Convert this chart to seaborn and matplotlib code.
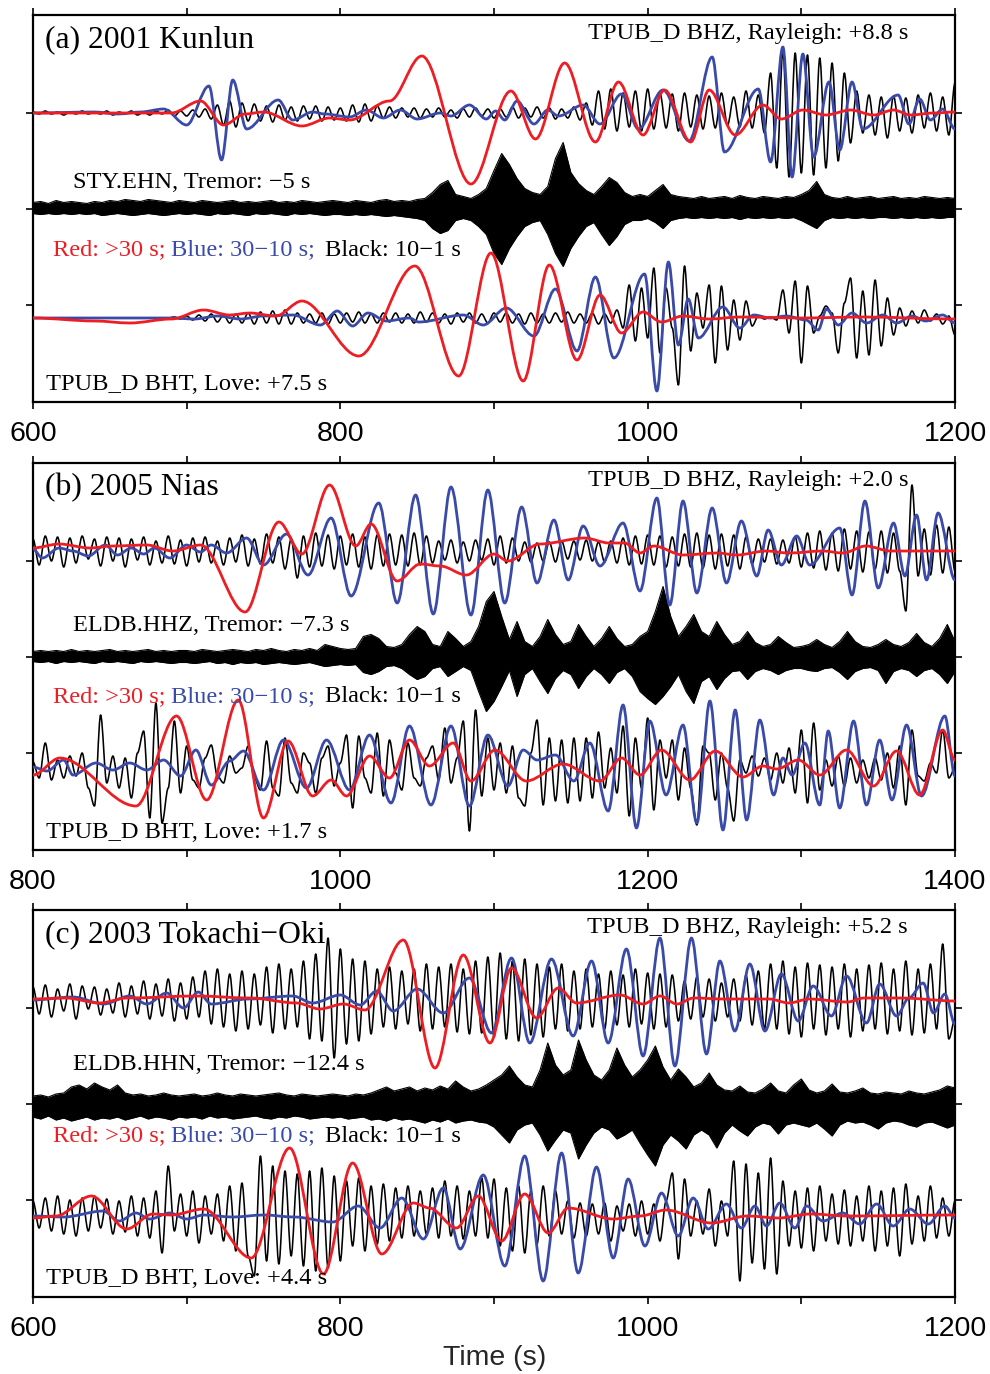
import numpy as np
import pandas as pd
import matplotlib
matplotlib.use("Agg")
import matplotlib.pyplot as plt
from matplotlib.path import Path
from matplotlib.patches import PathPatch
import seaborn as sns

# ---------------------------------------------------------------- data
# time windows (s)
A_XLIM = (600, 1200)
B_XLIM = (800, 1400)
C_XLIM = (600, 1200)

PANEL_TITLES = ["(a) 2001 Kunlun", "(b) 2005 Nias", "(c) 2003 Tokachi\u2212Oki"]
RAYLEIGH_LABELS = ["TPUB_D BHZ, Rayleigh: +8.8 s", "TPUB_D BHZ, Rayleigh: +2.0 s",
                   "TPUB_D BHZ, Rayleigh: +5.2 s"]
TREMOR_LABELS = ["STY.EHN, Tremor: \u22125 s", "ELDB.HHZ, Tremor: \u22127.3 s",
                 "ELDB.HHN, Tremor: \u221212.4 s"]
LOVE_LABELS = ["TPUB_D BHT, Love: +7.5 s", "TPUB_D BHT, Love: +1.7 s",
               "TPUB_D BHT, Love: +4.4 s"]
LEGEND_TEXTS = ["Red: >30 s;", "Blue: 30\u221210 s;", "Black: 10\u22121 s"]
XLABEL = "Time (s)"

# ---- (a) 2001 Kunlun : Rayleigh (extrema: time, amplitude)
A_RAY_RED = [(600, 0), (690, 0), (709, 12), (724, -12), (738, -1), (750, 1), (775, -13), (793, -5),
             (806, -7), (832, 12), (853, 57), (885, -71), (911, 22), (927, -26), (946, 50), (966, -29),
             (981, 31), (997, -22), (1011, 23), (1028, -29), (1040, 23), (1057, -22), (1075, 8),
             (1087, -6), (1101, 3), (1116, -2), (1132, 3), (1147, -2), (1160, 3), (1171, -2),
             (1186, 0), (1200, 1)]
A_RAY_BLUE = [(600, 0), (640, 1), (655, -1), (670, 1), (685, 4), (700, -12), (714.5, 27), (722.7, -47),
              (730, 33), (739, -16), (759.6, 13), (769, -7), (782, 1), (790, -1), (806, -4), (817, 3),
              (828, -5), (839, 3), (850, -6), (865, 0), (872, -3), (884, 8), (895, -6), (901, 2),
              (907, -7), (915, 12), (926, -11), (935, 3), (942, -3), (958, 8), (969, -11), (983, 19),
              (994, -16), (1010, 23), (1027, -28), (1042, 56), (1050, -39), (1072, 24), (1080, -49),
              (1088, 66), (1094, -64), (1101, 59), (1108, -44), (1118, 31), (1125, -37), (1133, 31),
              (1140, -16), (1163, 18), (1170, -11), (1177, 14), (1184, -7), (1192, 4), (1200, -16)]
# black samples every 4 s from 600 to 1200
A_RAY_BLACK = [1, -1, 2, -1, 1, -2, 1, -1, 2, -1, 1, -1, 2, -2, 1,
               -1, 2, -2, 1, -2, 2, -1, 3, -3, 2, -3, 3, -4, 4, -6,
               8, -12, 12, -14, 10, -8, 9, -8, 7, -9, 8, -7, 6, -8, 7,
               -6, 7, -8, 6, -7, 5, -8, 8, -9, 9, -8, 7, -5, 6, -5,
               5, -4, 5, -5, 4, -4, 5, -4, 3, -5, 4, -4, 5, -3, 4,
               -5, 4, -4, 6, -5, 5, -4, 6, -5, 5, -6, 4, -5, 6, -7,
               10, -12, 22, -16, 24, -18, 20, -14, 22, -18, 24, -16, 20, -15, 19,
               -18, 20, -14, 18, -16, 17, -15, 20, -12, 16, -14, 22, -15, 18, -20,
               40, -55, 62, -64, 60, -60, 58, -62, 55, -55, 50, -48, 40, -30, 22,
               -20, 18, -22, 16, -25, 17, -18, 15, -20, 18, -15, 20, -18, 16, -22,
               30]
# tremor envelope every 5 s
A_TREMOR_UP = [6, 7, 5, 8, 6, 7, 6, 5, 7, 6, 8, 7, 9, 8, 7, 9, 8, 7, 6, 8,
               7, 6, 8, 7, 6, 7, 8, 6, 7, 6, 7, 8, 6, 7, 6, 8, 7, 6, 7, 8,
               7, 6, 8, 7, 6, 8, 9, 7, 8, 7, 9, 10, 16, 24, 28, 14, 12, 10, 14, 20,
               38, 55, 44, 30, 20, 16, 14, 22, 50, 66, 36, 25, 18, 14, 22, 31, 26, 16, 12, 14,
               12, 18, 24, 14, 12, 11, 10, 12, 10, 11, 12, 10, 13, 11, 10, 12, 11, 10, 12, 11,
               14, 18, 27, 14, 11, 10, 12, 10, 11, 12, 10, 11, 12, 10, 11, 10, 12, 11, 10, 11,
               10]
A_TREMOR_LO = [5, 6, 5, 6, 5, 6, 5, 6, 5, 7, 6, 5, 6, 7, 6, 5, 6, 7, 6, 5,
               6, 5, 6, 7, 5, 6, 5, 6, 7, 5, 6, 5, 6, 7, 5, 6, 5, 6, 7, 6,
               6, 7, 6, 7, 6, 7, 8, 7, 8, 9, 10, 12, 20, 25, 22, 12, 10, 12, 18, 26,
               45, 56, 40, 28, 18, 14, 12, 26, 45, 58, 40, 28, 18, 14, 26, 37, 28, 16, 12, 12,
               10, 14, 20, 12, 10, 9, 10, 9, 10, 9, 10, 9, 11, 9, 10, 9, 10, 9, 10, 9,
               12, 16, 20, 12, 9, 10, 9, 10, 9, 10, 9, 9, 10, 9, 10, 9, 10, 9, 10, 9,
               9]
# ---- (a) Love
A_LOVE_RED = [(600, 0), (640, -3), (663, -5), (690, -1), (711, 8), (728, 3), (741, 5), (758, 2),
              (775, 17), (812, -38), (848.5, 52), (877, -58), (898, 65), (919, -63), (936, 53),
              (954, -42), (969, 23), (983, -15), (997, 6), (1009, -4), (1023, 2), (1040, -1),
              (1060, 1), (1100, 0), (1140, 1), (1200, -1)]
A_LOVE_BLUE = [(600, 0), (690, 0), (705, -1), (720, 2), (735, -1), (750, 2), (769, 3), (787, -7),
               (798, 7), (808, -8), (818, 5), (830, -3), (845, 0), (851, -4), (880, 3), (893, -7),
               (908, 10), (926, -18), (940, 29), (954, -33), (966, 41), (978, -40), (998, 44),
               (1006, -73), (1013.5, 56), (1020, -27), (1026.4, 19), (1033, -20), (1049, 11),
               (1060, -10), (1069, 3), (1080, 0), (1090, 2), (1103, -2), (1111, -12), (1116.4, 9),
               (1124, -7), (1133, 5), (1142.5, -5), (1153, 3), (1162, -5), (1172, 2), (1181, -3),
               (1192, 3), (1200, -5)]
A_LOVE_BLACK = [0, 0, 0, 0, 0, 0, 0, 0, 0, 0, 0, 0, 0, 0, 0,
                0, 0, 0, 0, 0, 0, 0, 0, 1, -1, 2, -2, 3, -3, 4,
                -4, 3, -5, 4, -5, 5, -6, 6, -5, 7, -6, 8, -6, 5, -5,
                4, -5, 5, -6, 4, -5, 5, -4, 6, -5, 4, -5, 5, -4, 5,
                -5, 4, -5, 6, -4, 5, -5, 4, -6, 5, -4, 5, -5, 4, -5,
                5, -4, 5, -5, 4, -6, 5, -5, 4, -5, 5, -4, 6, -5, 4,
                -5, 5, -6, 4, -5, 8, -10, 33, -23, 30, -20, 50, -35, 30, -10,
                -67, 52, -33, 25, -10, 33, -45, 32, -32, 18, -22, 17, -8, 2, -1,
                1, -2, 28, -15, 37, -45, 32, -15, 2, 12, 5, -35, 15, 40, -40,
                27, -37, 38, -28, 20, -17, 10, -8, 7, -5, 8, -3, 4, -6, 2,
                -17]

# ---- (b) 2005 Nias : Rayleigh
B_RAY_RED = [(800, 3), (817, 7), (837, 3), (852, 5), (874, 6), (891, 0), (909, 6), (938, -61),
             (960, 29), (975, -3), (993, 66), (1010, 5), (1020, 27), (1037, -30), (1052, -13),
             (1065, -15), (1082, -24), (1100, -3), (1109, -10), (1130, 7), (1159, 13), (1175, 8),
             (1185, 8), (1195, -2), (1204, 5), (1223, -4), (1245, -2), (1258, -4), (1277, 0),
             (1292, -2), (1314, 0), (1327, -2), (1342, 5), (1358, 0), (1400, 0)]
B_RAY_BLUE = [(800, 2), (806, -7), (817, 3), (826, 0), (836, -5), (847, 6), (855, -4), (864, 3),
              (872, -3), (879, 3), (889, -7), (900, 6), (909, -1), (916, 6), (926, -2), (939, 13),
              (950, -14), (965, 17), (979, -24), (994, 33), (1007, -45), (1025, 48), (1037, -52),
              (1049, 56), (1060.5, -63), (1072, 64), (1085, -64), (1096, 61), (1107, -52),
              (1118, 44), (1128, -32), (1139, 31), (1148.3, -29), (1158, 25), (1169, -15),
              (1184, 28), (1195, -40), (1206, 53), (1214.4, -54), (1223, 50), (1232, -42),
              (1242, 43), (1251.3, -32), (1261, 30), (1271, -25), (1278.4, 21), (1287, -14),
              (1297, 15), (1305.5, -14), (1325, 23), (1333, -44), (1341.4, 50), (1350, -37),
              (1360, 28), (1367.4, -25), (1375, 36), (1381.5, -29), (1389, 38), (1400, -29)]
B_RAY_BLACK = [12, -14, 15, -10, 14, -16, 13, -12, 15, -8, 12, -15, 14, -10, 13,
               -16, 12, -9, 14, -14, 10, -12, 15, -13, 11, -15, 13, -11, 14, -12,
               10, -14, 13, -11, 16, -15, 12, -13, 17, -12, 14, -18, 12, -27, 15,
               -16, 18, -15, 16, -18, 15, -14, 17, -16, 14, -18, 16, -15, 17, -14,
               16, -15, 18, -14, 15, -12, 10, -9, 11, -12, 9, -10, 11, -9, 12,
               -14, 15, -12, 13, -10, 9, -11, 8, -10, 9, -11, 10, -8, 10, -9,
               11, -10, 9, -11, 10, -12, 13, -14, 15, -13, 16, -14, 15, -16, 14,
               -15, 17, -16, 18, -17, 16, -18, 17, -15, 16, -18, 14, -13, 12, -11,
               12, -13, 11, -12, 14, -16, 18, -17, 20, -19, 18, -20, 22, -18, 20,
               -21, 19, -18, 20, -22, 18, -20, -60, 66, -25, 22, -24, 26, -22, 24,
               -20]
B_TREMOR_UP = [5, 6, 5, 6, 5, 7, 5, 6, 5, 6, 7, 5, 6, 5, 6, 7, 5, 6, 5, 6,
               6, 5, 7, 6, 5, 6, 7, 6, 5, 7, 6, 8, 6, 5, 7, 6, 8, 6, 12, 10,
               8, 7, 8, 20, 22, 18, 10, 9, 12, 22, 30, 25, 12, 10, 25, 18, 10, 15, 30, 55,
               65, 40, 17, 35, 15, 10, 20, 37, 22, 12, 15, 32, 20, 10, 18, 30, 18, 10, 12, 20,
               25, 45, 70, 40, 20, 30, 42, 25, 20, 35, 22, 12, 15, 25, 14, 10, 12, 20, 14, 9,
               10, 12, 17, 12, 9, 15, 25, 15, 10, 9, 12, 17, 12, 10, 14, 23, 14, 10, 18, 32,
               15]
B_TREMOR_LO = [5, 6, 5, 7, 5, 6, 5, 6, 7, 5, 6, 5, 6, 7, 5, 6, 5, 6, 7, 6,
               6, 7, 6, 5, 7, 6, 8, 6, 7, 6, 8, 7, 6, 7, 8, 7, 6, 8, 10, 9,
               8, 9, 8, 16, 18, 15, 10, 9, 12, 18, 23, 20, 12, 10, 20, 15, 10, 14, 35, 55,
               45, 30, 14, 40, 18, 12, 25, 37, 22, 14, 18, 32, 20, 12, 18, 27, 16, 12, 20, 35,
               42, 48, 40, 30, 18, 35, 47, 25, 20, 33, 22, 15, 14, 23, 15, 12, 14, 18, 14, 12,
               12, 14, 15, 12, 11, 16, 23, 15, 12, 11, 14, 27, 15, 12, 14, 20, 14, 12, 18, 27,
               15]
# ---- (b) Love
B_LOVE_RED = [(800, -7), (817.5, 10), (867, -38), (893.4, 52), (913, -32), (933.6, 68), (950, -50),
              (966, 27), (982, -28), (994, -12), (1004, -28), (1019, 12), (1032, -10), (1045, 28),
              (1058, 2), (1073.5, 25), (1085, -13), (1100.6, 18), (1121, -13), (1145, 4),
              (1169, -13), (1183, 10), (1195, -7), (1209, 18), (1227.5, -12), (1244, 17),
              (1262, -9), (1275, 2), (1284, -1), (1298, 8), (1312, -7), (1329.4, 18), (1347, -18),
              (1362, 17), (1377, -27), (1392, 38), (1400, 8)]
B_LOVE_BLUE = [(800, 1), (809, -3), (820, 8), (826, -7), (841, 5), (852, -2), (863, 5), (874, -2),
               (885, 8), (896, -8), (906, 18), (916, -17), (928, 7), (937, 17), (950, -22),
               (963, 28), (978, -20), (991, 28), (1006, -22), (1019, 33), (1033, -35), (1045, 42),
               (1059, -37), (1072, 42), (1084, -38), (1096, 33), (1109, -18), (1119, 18),
               (1128, 8), (1140, 13), (1152, -13), (1162.4, 25), (1174.3, -43), (1184, 63),
               (1192.7, -60), (1201.4, 47), (1212, -27), (1223, 43), (1232, -55), (1240.5, 67),
               (1249, -62), (1257, 58), (1264.4, -52), (1273, 48), (1282, -27), (1288, 10),
               (1294, -7), (1302.3, 25), (1312, -37), (1317.5, 37), (1325, -40), (1334, 47),
               (1342.4, -37), (1351, 28), (1359, -32), (1368.5, 43), (1378.2, -28),
               (1393.4, 52), (1400, -8)]
B_LOVE_BLACK = [6, -10, 25, -12, 8, -10, 12, -8, 15, -20, -38, 53, -15, 12, -20,
                10, -30, 15, 37, -50, 65, -55, -20, 47, -25, 22, -12, -20, 10, 23,
                -8, -15, 12, -5, 0, 22, -10, -22, 27, -20, -28, 30, -15, -25, 15,
                5, -25, 10, 22, -18, 5, 33, -40, 32, -10, -25, 35, -28, 28, -5,
                -22, 25, -10, -18, 10, 22, -12, 40, -15, 10, 47, -63, 58, -28, 30,
                -22, 25, -25, 22, -30, -38, 15, 48, -37, 30, -33, 28, -35, 30, -33,
                30, -30, 36, -20, 20, -25, 42, -48, 30, -20, 50, -42, 28, -10, 28,
                -32, 20, -20, -57, 22, 15, -32, 15, -20, -53, 8, -5, 12, -8, 10,
                -12, 15, -15, 20, -25, 38, -35, 45, -22, 8, -18, 12, -18, 10, -15,
                8, -10, 10, -12, 15, -20, 22, -37, 38, -8, -13, 5, -5, 38, -10,
                0]

# ---- (c) 2003 Tokachi-Oki : Rayleigh
C_RAY_RED = [(600, 0), (621, 1), (643.5, -4), (661, 1), (706.5, 3), (741, 1), (771.5, -4),
             (786.7, -10), (802, -5), (816, -11), (841, 59), (861.6, -69), (880, 44), (897.4, -44),
             (911.4, 31), (927.7, -19), (941.8, 11), (953.7, -4), (982, 4), (997, -5), (1008, 3),
             (1019, -5), (1030, 1), (1050, 0), (1079, 0), (1092, -4), (1105, 0), (1130, -3),
             (1141, 1), (1165, 1), (1200, -2)]
C_RAY_BLUE = [(600, -1), (626, 2), (646, -5), (663, 3), (674, -5), (687, 6), (698, -9), (707.5, 7),
              (716, -5), (740, 0), (769, 3), (782, -4), (800, 4), (813, -6), (823.6, 8),
              (834.4, -12), (850, 10), (867, -14), (884, 21), (898.4, -34), (911.4, 41),
              (923.3, -44), (937.4, 40), (951.5, -37), (963.5, 38), (974.3, -44), (986.2, 50),
              (997, -57), (1008, 61), (1017.7, -67), (1028.5, 61), (1038.3, -55), (1047, 38),
              (1056.7, -32), (1066.5, 35), (1076.3, -32), (1087, 25), (1098, -22), (1107.7, 13),
              (1119.6, -17), (1129.4, 23), (1142.4, -24), (1151, 15), (1162, -17), (1170, 1),
              (1179.3, 16), (1186, -14), (1193.4, 5), (1200, -25)]
C_RAY_BLACK = [12, -15, 14, -18, 10, -12, 15, -20, 13, -10, 12, -16, 10, -14, 16,
               -18, 13, -15, 18, -20, 15, -17, 20, -22, 16, -20, 22, -18, 28, -25,
               30, -28, 25, -32, 28, -30, 25, -26, 32, -34, 35, -30, 30, -28, 38,
               -40, 45, -42, 61, -59, 50, -45, 40, -42, 38, -35, 30, -28, 32, -30,
               28, -25, 30, -32, 35, -30, 32, -28, 35, -33, 30, -35, 38, -34, 42,
               -38, 46, -40, 38, -42, 40, -36, 35, -38, 32, -30, 35, -32, 28, -30,
               30, -28, 25, -30, 28, -26, 24, -28, 30, -25, 26, -30, 25, -28, 24,
               -22, 18, -20, 22, -18, 20, -22, 16, -18, 20, -22, 24, -26, 28, -30,
               35, -30, 38, -35, 32, -38, 36, -30, 34, -36, 32, -30, 35, -38, 30,
               -32, 34, -30, 36, -35, 30, -32, 38, -36, 30, -34, 35, -30, 55, -40,
               -20]
C_TREMOR_UP = [9, 10, 8, 11, 12, 18, 20, 16, 22, 18, 15, 20, 12, 10, 11, 9, 10, 12, 10, 9,
               10, 11, 9, 10, 12, 10, 9, 11, 10, 9, 10, 11, 12, 10, 9, 11, 10, 9, 10, 11,
               10, 9, 11, 10, 12, 15, 18, 14, 16, 18, 14, 17, 15, 19, 16, 24, 18, 14, 16, 20,
               25, 30, 39, 28, 20, 18, 35, 62, 40, 30, 35, 65, 45, 30, 25, 35, 57, 40, 28, 35,
               45, 59, 38, 25, 36, 28, 18, 22, 32, 20, 15, 14, 19, 13, 12, 16, 22, 14, 12, 20,
               26, 15, 12, 14, 21, 13, 12, 14, 17, 12, 11, 13, 12, 11, 14, 12, 11, 13, 15, 19,
               17]
C_TREMOR_LO = [12, 14, 11, 15, 13, 16, 14, 12, 15, 13, 14, 12, 15, 13, 11, 14, 12, 13, 15, 12,
               13, 12, 14, 11, 13, 12, 14, 13, 12, 11, 13, 14, 12, 13, 11, 12, 14, 13, 12, 13,
               12, 14, 13, 12, 15, 14, 16, 13, 15, 14, 16, 18, 15, 17, 14, 18, 16, 15, 17, 18,
               22, 30, 38, 25, 20, 18, 30, 46, 35, 25, 28, 54, 40, 28, 22, 25, 34, 30, 25, 38,
               50, 61, 40, 30, 36, 44, 30, 25, 30, 43, 28, 20, 26, 31, 22, 18, 20, 29, 20, 18,
               20, 22, 18, 24, 31, 20, 16, 18, 17, 20, 24, 18, 16, 17, 20, 22, 18, 17, 20, 23,
               20]
# ---- (c) Love
C_LOVE_RED = [(600, -2), (615, 0), (638, 20), (661, -13), (678, 2), (690, 1), (711, 7), (742, -42),
              (767, 68), (789, -58), (808, 53), (827, -38), (847.5, 13), (858, 8), (875.6, -12),
              (889.8, 20), (905, -25), (920, 22), (935.3, -17), (948.3, 8), (977.6, -3), (995, 0),
              (1012, 6), (1041.5, -7), (1065, 0), (1085, -2), (1106, 2), (1130, 0), (1200, 1)]
C_LOVE_BLUE = [(600, 0), (620, -1), (645.7, 5), (656, -5), (667, 3), (676, -3), (689, 3), (700, -3),
               (711, 1), (730, -1), (750, 1), (770, -1), (795, -6), (811.7, 10), (825.8, -12),
               (840, 18), (854, -23), (867, 28), (878, -33), (893, 41), (907, -50), (920, 60),
               (932, -65), (944, 63), (954.8, -57), (966.7, 49), (977.6, -42), (987.3, 37),
               (998.2, -30), (1009, 23), (1019.9, -20), (1029.6, 18), (1039.4, -13), (1051.3, 12),
               (1061, -12), (1069.8, 10), (1077.3, -10), (1086, 13), (1095.8, -12), (1103.4, 10),
               (1114, -5), (1127, 3), (1138, -8), (1149, 12), (1159.8, -10), (1170.6, 7),
               (1182.6, -8), (1193.4, 10), (1200, -2)]
C_LOVE_BLACK = [15, -12, 18, -15, 20, -18, 16, -20, 18, -15, 20, -12, 17, -18, 15,
                -16, 20, -20, 18, -22, 25, -37, 50, -15, 22, -20, 25, -27, 20, -18,
                22, -25, 30, -35, 33, -40, -60, 60, -45, 50, -48, 45, -40, 42, -50,
                45, -55, 48, -52, 40, -45, 35, -30, 38, -35, 30, -28, 32, -25, 28,
                -22, 30, -20, 25, -18, 28, -22, 35, -20, 30, -23, 25, -20, 38, -22,
                37, -30, 28, -35, 30, -37, 25, -28, 30, -20, 25, -18, 15, -22, 13,
                -20, 12, -18, 13, -25, 10, -15, 12, -20, 15, -18, 12, -25, 15, 43,
                -43, 37, -20, 15, -18, 27, -30, 15, -20, 55, -65, 52, -47, 43, -53,
                58, -58, 35, -30, 25, -32, 28, -35, 30, -25, 22, -28, 26, -30, 20,
                -25, 30, -35, 25, -30, 28, -40, 32, -28, 20, -25, 30, -22, 18, -20,
                15]

# ---------------------------------------------------------------- style
sns.set_theme(style="white")
plt.rcParams["font.family"] = ["Liberation Sans", "DejaVu Sans"]
SERIF = ["Liberation Serif", "DejaVu Serif"]
RED = "#ee1d23"
BLUE = "#3a4aa8"

FIG_W, FIG_H = 990, 1374
AX_LEFT, AX_RIGHT = 33, 955
AX_H = 387
PANEL_TOPS = [15, 463, 910]
# trace baselines (in panel units, measured upwards from the panel bottom)
BASE_RAY = [289, 299, 298]
BASE_TREMOR = [193.5, 193.5, 192]
BASE_LOVE = [84, 82, 81]
TEXT_TREMOR_Y = [168, 163, 155]
TEXT_LEGEND_Y = [235, 234, 226]

fig = plt.figure(figsize=(FIG_W / 100, FIG_H / 100), dpi=100)


def smooth_trace(ax, t, a, base, color, lw, z):
    """Curve through the listed extrema (horizontal tangents), drawn in data coordinates."""
    y = [base + v for v in a]
    verts = [(t[0], y[0])]
    codes = [Path.MOVETO]
    for i in range(len(t) - 1):
        dt = t[i + 1] - t[i]
        verts += [(t[i] + dt / 3, y[i]), (t[i + 1] - dt / 3, y[i + 1]), (t[i + 1], y[i + 1])]
        codes += [Path.CURVE4] * 3
    ax.add_patch(PathPatch(Path(verts, codes), fill=False, ec=color, lw=lw,
                           capstyle="round", joinstyle="round", zorder=z))


def pair_trace(ax, pts, base, color, lw, z):
    smooth_trace(ax, [p[0] for p in pts], [p[1] for p in pts], base, color, lw, z)


def black_trace(ax, vals, xlim, base):
    t = list(np.linspace(xlim[0], xlim[1], len(vals)))
    smooth_trace(ax, t, vals, base, "black", 1.15, 2)


def tremor_trace(ax, up, lo, xlim, base):
    t = np.linspace(xlim[0], xlim[1], len(up))
    hi = base + np.asarray(up, float)
    low = base - np.asarray(lo, float)
    ax.fill_between(t, hi, low, color="black", lw=0, zorder=2)
    df = pd.DataFrame({"t": np.concatenate([t, t]),
                       "y": np.concatenate([hi, low]),
                       "edge": ["up"] * len(t) + ["lo"] * len(t)})
    sns.lineplot(data=df, x="t", y="y", units="edge", estimator=None, sort=False,
                 color="black", lw=0.8, ax=ax, zorder=2)


panels = [
    (A_XLIM, A_RAY_RED, A_RAY_BLUE, A_RAY_BLACK, A_TREMOR_UP, A_TREMOR_LO,
     A_LOVE_RED, A_LOVE_BLUE, A_LOVE_BLACK),
    (B_XLIM, B_RAY_RED, B_RAY_BLUE, B_RAY_BLACK, B_TREMOR_UP, B_TREMOR_LO,
     B_LOVE_RED, B_LOVE_BLUE, B_LOVE_BLACK),
    (C_XLIM, C_RAY_RED, C_RAY_BLUE, C_RAY_BLACK, C_TREMOR_UP, C_TREMOR_LO,
     C_LOVE_RED, C_LOVE_BLUE, C_LOVE_BLACK),
]

for k, (xlim, rr, rb, rk, tu, tl, lr, lb, lk) in enumerate(panels):
    top = PANEL_TOPS[k]
    ax = fig.add_axes([AX_LEFT / FIG_W, 1 - (top + AX_H) / FIG_H,
                       (AX_RIGHT - AX_LEFT) / FIG_W, AX_H / FIG_H])

    black_trace(ax, rk, xlim, BASE_RAY[k])
    pair_trace(ax, rb, BASE_RAY[k], BLUE, 2.0, 3)
    pair_trace(ax, rr, BASE_RAY[k], RED, 2.0, 4)

    tremor_trace(ax, tu, tl, xlim, BASE_TREMOR[k])

    black_trace(ax, lk, xlim, BASE_LOVE[k])
    pair_trace(ax, lb, BASE_LOVE[k], BLUE, 2.0, 3)
    pair_trace(ax, lr, BASE_LOVE[k], RED, 2.0, 4)

    ax.set_xlim(*xlim)
    ax.set_ylim(0, AX_H)
    ax.set_xlabel("")
    ax.set_ylabel("")
    ax.set_xticks(np.arange(xlim[0], xlim[1] + 1, 200))
    ax.set_xticks(np.arange(xlim[0], xlim[1] + 1, 100), minor=True)
    ax.set_xticklabels([str(v) for v in range(xlim[0], xlim[1] + 1, 200)])
    ax.set_yticks([97, 193, 289])
    ax.set_yticklabels([])
    ax.tick_params(axis="both", which="both", direction="out", length=5, width=1.2,
                   top=True, right=True, bottom=True, left=True, colors="black")
    ax.tick_params(axis="x", which="major", labelsize=20.5, pad=9)
    for s in ax.spines.values():
        s.set_linewidth(1.6)
        s.set_color("black")
        s.set_visible(True)

    def put(px, py, s, **kw):
        ax.text((px - AX_LEFT) / (AX_RIGHT - AX_LEFT), 1 - py / AX_H, s,
                transform=ax.transAxes, va="center", family=SERIF, zorder=6, **kw)

    put(45, 25, PANEL_TITLES[k], fontsize=22.8, color="black")
    put(908, 18, RAYLEIGH_LABELS[k], fontsize=17.6, ha="right", color="black")
    put(73, TEXT_TREMOR_Y[k], TREMOR_LABELS[k], fontsize=17.6, color="black")
    put(53, TEXT_LEGEND_Y[k], LEGEND_TEXTS[0], fontsize=17.6, color=RED)
    put(171, TEXT_LEGEND_Y[k], LEGEND_TEXTS[1], fontsize=17.6, color=BLUE)
    put(325, TEXT_LEGEND_Y[k], LEGEND_TEXTS[2], fontsize=17.6, color="black")
    put(46, 369, LOVE_LABELS[k], fontsize=17.6, color="black")

fig.text(495 / FIG_W, 1 - 1358 / FIG_H, XLABEL, ha="center", va="center", fontsize=20.5)

fig.savefig("out.png", dpi=100)
